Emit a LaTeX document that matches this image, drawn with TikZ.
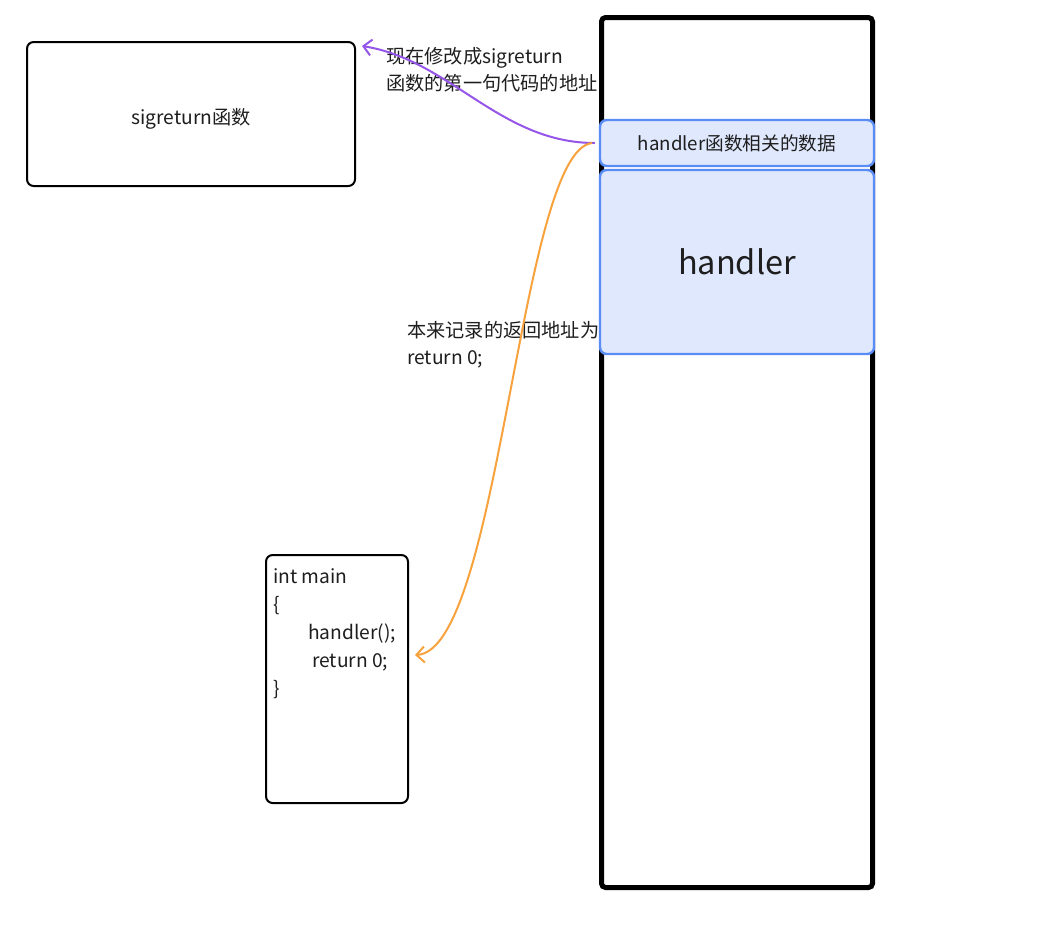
\documentclass[tikz,border=0pt]{standalone}
\usepackage{fontspec}
\setmainfont{Noto Sans CJK SC}
\usepackage{tikz}
\usetikzlibrary{arrows.meta,calc,positioning}

\definecolor{inkgray}{HTML}{1E1E1E}
\definecolor{framefill}{HTML}{E0E8FD}
\definecolor{framedraw}{HTML}{5A8CF5}
\definecolor{retpurple}{HTML}{9555E8}
\definecolor{retorange}{HTML}{F8A23E}

\tikzset{
  txt/.style={text=inkgray, font=\fontsize{14.4}{20.25}\selectfont},
  blackbox/.style={draw=black, line width=1.5pt, rounded corners=5pt, fill=white, inner sep=0pt},
  stackbox/.style={draw=black, line width=3.75pt, rounded corners=3pt, inner sep=0pt},
  framebox/.style={draw=framedraw, fill=framefill, line width=1.8pt, rounded corners=5pt, inner sep=0pt},
  retarrow/.style={line width=1.5pt, -{Straight Barb[length=6pt,width=12pt]}}
}

\begin{document}
\begin{tikzpicture}[x=0.75pt,y=-0.75pt]
\useasboundingbox (0,0) rectangle (1056,933);

% stack and its frames
\node [stackbox, minimum width=203.25pt, minimum height=652.5pt] (stack) at (737,452.5) {};
\node [framebox, text=inkgray, font=\fontsize{14}{20}\selectfont, minimum width=205.5pt, minimum height=34.5pt] (data) at (737,143) {handler函数相关的数据};
\node [framebox, minimum width=205.5pt, minimum height=138pt, text=inkgray, font=\fontsize{24.4}{29}\selectfont] (handler) at (737,262) {handler};

% code boxes
\node [blackbox, txt, minimum width=246pt, minimum height=108pt, text height=18pt, text depth=3pt] (sigret) at (191,114) {sigreturn函数};
\node [blackbox, minimum width=106.5pt, minimum height=186pt] (main) at (337,679) {};
\node [txt, align=left, anchor=north west, inner sep=0pt, font=\fontsize{14.4}{21}\selectfont] (code) at (273,568.5)
  {int main\\{\{}\\\hspace*{26.25pt}handler();\\\hspace*{29.25pt}return 0;\\\}};

% labels
\node [txt, align=left, anchor=west, inner sep=0pt] (newret) at (386,70) {现在修改成sigreturn\\函数的第一句代码的地址};
\node [txt, align=left, anchor=west, inner sep=0pt] (oldret) at (407,345) {本来记录的返回地址为\\return 0;};

% return addresses
\coordinate (ptip) at (362,46);
\coordinate (otip) at (415,655);
\draw [retarrow, draw=retpurple] ([xshift=-3pt]data.west) .. controls (500,143) and (450,60) .. (ptip);
\draw [retarrow, draw=retorange] ([xshift=-5pt]data.west) .. controls (520,150) and (500,650) .. (otip);
\end{tikzpicture}
\end{document}
